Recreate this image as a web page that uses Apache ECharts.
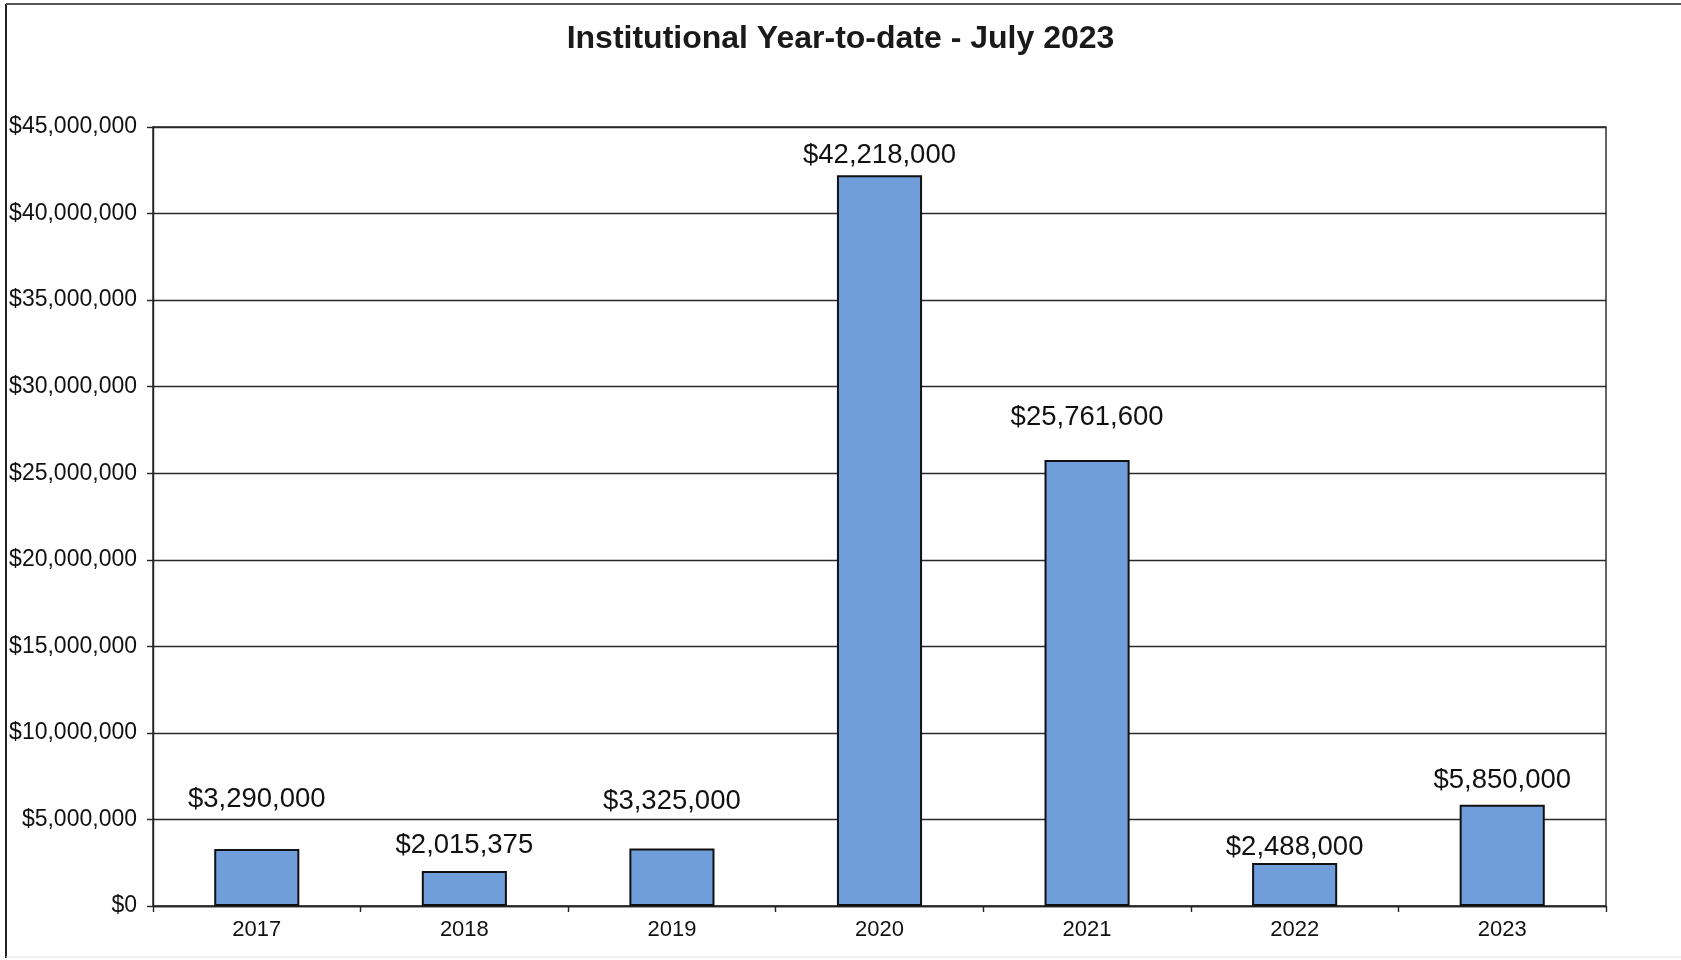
<!DOCTYPE html>
<html>
<head>
<meta charset="utf-8">
<script src="https://cdn.jsdelivr.net/npm/echarts@6/dist/echarts.min.js"></script>
<style>
html,body{margin:0;padding:0;background:#fff;}
#chart{width:1681px;height:960px;}
</style>
</head>
<body>
<div id="chart"></div>
<script>
const titleText = 'Institutional Year-to-date - July 2023';
const categories = ['2017', '2018', '2019', '2020', '2021', '2022', '2023'];
const values = [3290000, 2015375, 3325000, 42218000, 25761600, 2488000, 5850000];
const yTicks = [0, 5000000, 10000000, 15000000, 20000000, 25000000, 30000000, 35000000, 40000000, 45000000];

// label gaps above bars (style only)
const labelGap = [36, 12, 33, 6, 29, 2, 10];

const fmt = v => '$' + Math.round(v).toString().replace(/\B(?=(\d{3})+(?!\d))/g, ',');

const chart = echarts.init(document.getElementById('chart'));
chart.setOption({
  backgroundColor: '#ffffff',
  animation: false,
  title: {
    text: titleText,
    left: 'center',
    top: 18,
    textStyle: {fontFamily: 'Liberation Sans, Arial, sans-serif', fontSize: 32, fontWeight: 'bold', color: '#1a1a1a'}
  },
  graphic: [
    {type: 'line', shape: {x1: 6, y1: 4, x2: 6, y2: 958}, style: {stroke: '#222', lineWidth: 2}},
    {type: 'line', shape: {x1: 6, y1: 4, x2: 1681, y2: 4}, style: {stroke: '#555', lineWidth: 2}},
    {type: 'line', shape: {x1: 6, y1: 957, x2: 1681, y2: 957}, style: {stroke: '#ddd', lineWidth: 1}}
  ],
  grid: {
    left: 153, right: 75, top: 127, bottom: 54,
    show: true, borderColor: '#222', borderWidth: 1.4, backgroundColor: 'transparent'
  },
  xAxis: {
    type: 'category',
    data: categories,
    axisLine: {lineStyle: {color: '#222', width: 1.4}},
    axisTick: {show: true, length: 6, lineStyle: {color: '#222', width: 1.4}},
    axisLabel: {fontFamily: 'Liberation Sans, Arial, sans-serif', fontSize: 22, color: '#111', margin: 13}
  },
  yAxis: {
    type: 'value',
    min: yTicks[0],
    max: yTicks[yTicks.length - 1],
    interval: yTicks[1] - yTicks[0],
    axisLine: {show: true, lineStyle: {color: '#222', width: 1.4}},
    axisTick: {show: true, length: 6, lineStyle: {color: '#222', width: 1.4}},
    splitLine: {show: true, lineStyle: {color: '#2a2a2a', width: 1.4}},
    axisLabel: {fontFamily: 'Liberation Sans, Arial, sans-serif', fontSize: 23, color: '#111', margin: 16, formatter: fmt}
  },
  series: [{
    type: 'bar',
    barWidth: '41%',
    data: values.map((v, i) => ({value: v, label: {distance: labelGap[i]}})),
    itemStyle: {color: '#6f9edb', borderColor: '#111', borderWidth: 2},
    label: {
      show: true,
      position: 'top',
      fontFamily: 'Liberation Sans, Arial, sans-serif',
      fontSize: 27.5,
      color: '#111',
      formatter: p => fmt(p.value)
    }
  }]
});
</script>
</body>
</html>
